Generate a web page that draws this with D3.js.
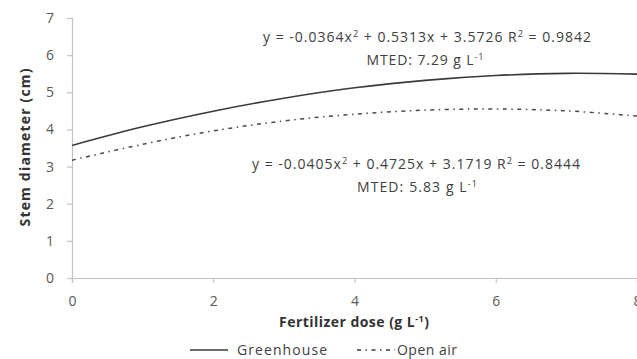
<!DOCTYPE html>
<html>
<head>
<meta charset="utf-8">
<script src="https://cdn.jsdelivr.net/npm/d3@7"></script>
<style>
  html, body { margin: 0; padding: 0; background: #fff; }
  svg { display: block; font-family: "Open Sans", Lato, sans-serif; }
</style>
</head>
<body>
<svg id="chart" width="637" height="359"></svg>
<script>
// Fertilizer dose (g L-1) at which stem diameter was read
const doses = [0, 1, 2, 3, 4, 5, 6, 7, 8];
// Stem diameter (cm) under each growing condition
const greenhouse = [3.57, 4.07, 4.49, 4.84, 5.12, 5.32, 5.45, 5.51, 5.49];
const openAir = [3.17, 3.60, 3.96, 4.23, 4.41, 4.52, 4.55, 4.50, 4.36];
// Axis tick labels
const xTicks = [0, 2, 4, 6, 8];
const yTicks = [0, 1, 2, 3, 4, 5, 6, 7];

const svg = d3.select("#chart");
const W = 637, H = 359;
const m = { left: 72, top: 18, right: 0, bottom: 81 };
const FONT = "'Open Sans', Lato, sans-serif";

const x = d3.scaleLinear().domain([0, 8]).range([m.left, W - m.right]);
const y = d3.scaleLinear().domain([0, 7]).range([H - m.bottom, m.top]);

const axisColor = "#c3c3c3";
const tickText = "#595959";

// Y axis
const gy = svg.append("g").attr("transform", `translate(${m.left},0)`)
  .call(d3.axisLeft(y).tickValues(yTicks).tickSize(5).tickPadding(13).tickFormat(d3.format("d")));
// X axis
const gx = svg.append("g").attr("transform", `translate(0,${y(0)})`)
  .call(d3.axisBottom(x).tickValues(xTicks).tickSize(5).tickPadding(13).tickFormat(d3.format("d")));

[gx, gy].forEach(g => {
  g.select(".domain").attr("stroke", axisColor).attr("stroke-width", 1.2);
  g.selectAll(".tick line").attr("stroke", axisColor).attr("stroke-width", 1.2);
  g.selectAll(".tick text").attr("fill", tickText).style("font-size", "14px")
    .style("font-family", FONT);
});

// Curves
const line = d3.line().x((d, i) => x(doses[i])).y(d => y(d)).curve(d3.curveCatmullRom);

svg.append("path").datum(greenhouse)
  .attr("d", line).attr("fill", "none")
  .attr("stroke", "#3a3a3a").attr("stroke-width", 1.6);

svg.append("path").datum(openAir)
  .attr("d", line).attr("fill", "none")
  .attr("stroke", "#4a4a4a").attr("stroke-width", 1.5)
  .attr("stroke-dasharray", "4,4.5,1.5,4.5");

// Text helper with superscripts: parts = [[text, isSup], ...]; len spreads glyphs to a set width
function richText(px, py, parts, opts) {
  const t = svg.append("text").attr("x", px).attr("y", py)
    .attr("text-anchor", opts.anchor || "middle")
    .attr("fill", opts.fill || "#404040")
    .style("font-family", FONT)
    .style("font-size", opts.size + "px")
    .style("font-weight", opts.weight || "normal");
  if (opts.len) t.attr("textLength", opts.len).attr("lengthAdjust", "spacing");
  let sup = false;
  parts.forEach(([s, isSup]) => {
    const ts = t.append("tspan").text(s);
    if (isSup && !sup) { ts.attr("dy", -opts.size * 0.38).style("font-size", (opts.size * 0.65) + "px"); }
    else if (!isSup && sup) { ts.attr("dy", opts.size * 0.38); }
    sup = isSup;
  });
  return t;
}

// Regression equations
richText(427, 42, [["y = -0.0364x", false], ["2", true], [" + 0.5313x + 3.5726 R", false], ["2", true], [" = 0.9842", false]], { size: 14, len: 328 });
richText(425, 65, [["MTED: 7.29 g L", false], ["-1", true]], { size: 14, len: 117 });
richText(416, 169, [["y = -0.0405x", false], ["2", true], [" + 0.4725x + 3.1719 R", false], ["2", true], [" = 0.8444", false]], { size: 14, len: 328 });
richText(417, 192, [["MTED: 5.83 g L", false], ["-1", true]], { size: 14, len: 120 });

// Axis titles
richText(354, 327, [["Fertilizer dose (g L", false], ["-1", true], [")", false]], { size: 14, weight: "bold", fill: "#333", len: 150 });
svg.append("text")
  .attr("transform", `translate(30,147.5) rotate(-90)`)
  .attr("text-anchor", "middle").attr("fill", "#333")
  .attr("textLength", 158).attr("lengthAdjust", "spacing")
  .style("font-family", FONT)
  .style("font-size", "14px").style("font-weight", "bold")
  .text("Stem diameter (cm)");

// Legend
const legend = [
  { name: "Greenhouse", dash: null, x0: 190, tx: 237, len: 90 },
  { name: "Open air", dash: "4,4.5,1.5,4.5", x0: 357, tx: 397, len: 60 }
];
legend.forEach(l => {
  svg.append("line").attr("x1", l.x0).attr("x2", l.x0 + 38).attr("y1", 350).attr("y2", 350)
    .attr("stroke", "#3a3a3a").attr("stroke-width", 1.5)
    .attr("stroke-dasharray", l.dash);
  svg.append("text").attr("x", l.tx).attr("y", 355)
    .attr("textLength", l.len).attr("lengthAdjust", "spacing")
    .attr("fill", "#404040").style("font-family", FONT).style("font-size", "14px").text(l.name);
});
</script>
</body>
</html>
